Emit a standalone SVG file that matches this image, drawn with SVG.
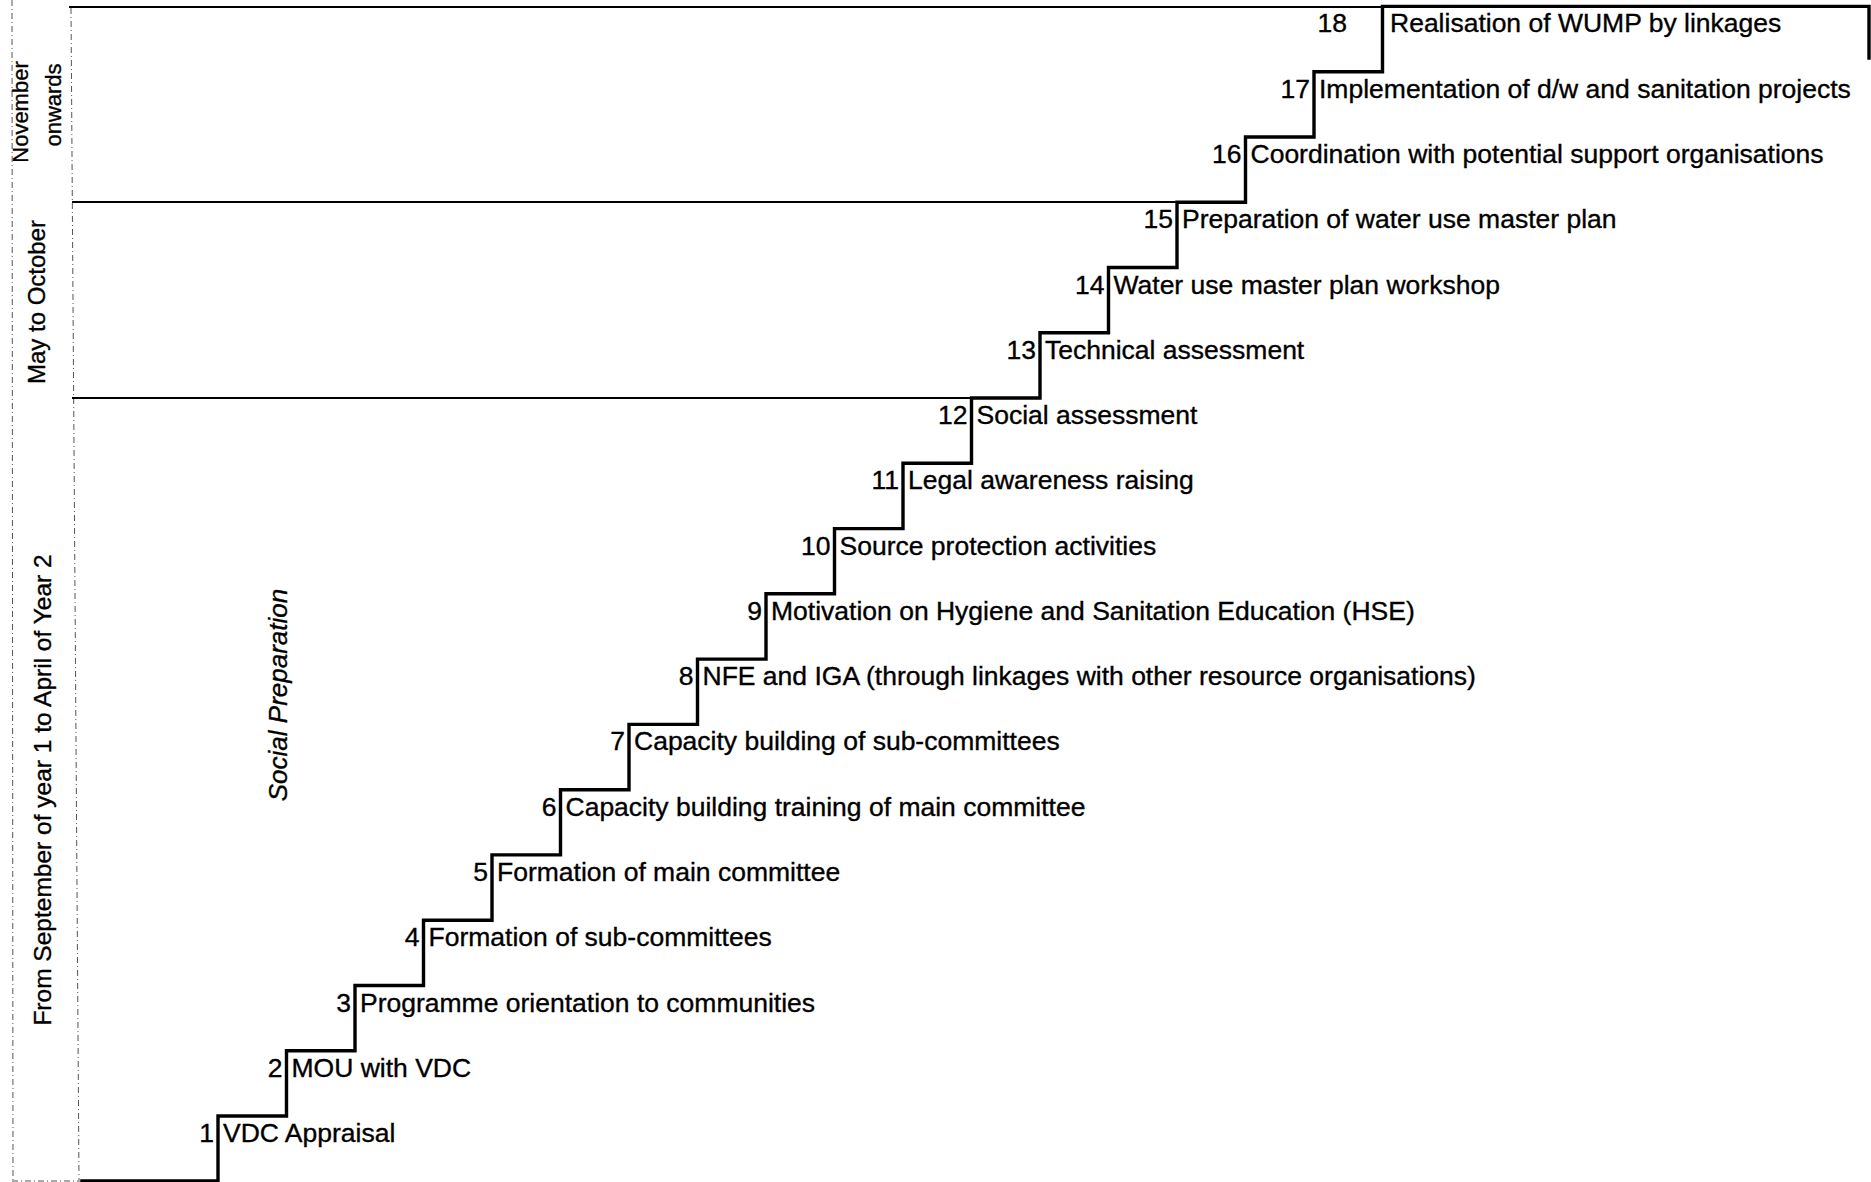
<svg xmlns="http://www.w3.org/2000/svg" width="1871" height="1182" viewBox="0 0 1871 1182">
<style>
text{font-family:"Liberation Sans",Arial,Helvetica,sans-serif;fill:#000;stroke:#000;stroke-width:0.35}
.num{font-size:26.5px;text-anchor:end}
.lbl{font-size:26.5px}
.side{font-size:24px;text-anchor:middle}
.stair{fill:none;stroke:#000;stroke-width:3.4;stroke-linejoin:miter;stroke-linecap:square}
.band{fill:none;stroke:#000;stroke-width:2.2}
.dot{fill:none;stroke:#555;stroke-width:1;stroke-dasharray:6 3 1 3}
</style>
<rect width="1871" height="1182" fill="#fff"/>
<g id="frame">
<line class="dot" x1="12" y1="0" x2="13" y2="1180"/>
<line class="dot" x1="71" y1="8" x2="79" y2="1180"/>
<line class="dot" x1="12" y1="1181" x2="82" y2="1181"/>
<line class="band" x1="69" y1="7" x2="1382.5" y2="7"/>
<line class="band" x1="72" y1="202" x2="1177" y2="202"/>
<line class="band" x1="72" y1="398" x2="971.5" y2="398"/>
</g>
<g id="period-labels">
<text class="side" transform="translate(28,112) rotate(-90)" style="font-size:22px">November</text>
<text class="side" transform="translate(61,105) rotate(-90)" style="font-size:22px">onwards</text>
<text class="side" transform="translate(45,302) rotate(-90)">May to October</text>
<text class="side" transform="translate(51,790) rotate(-90)" style="font-size:24.5px">From September of year 1 to April of Year 2</text>
<text class="side" transform="translate(287,695) rotate(-90)" style="font-size:26px;font-style:italic">Social Preparation</text>
</g>
<g id="connectors">
<path class="stair" d="M82 1181 H218 V1116 H286.5 V1050.7 H355 V985.5 H423.5 V920.2 H492 V854.9 H560.5 V789.7 H629 V724.4 H697.5 V659.1 H766 V593.8 H834.5 V528.6 H903 V463.3 H971.5 V398 H1040 V332.8 H1108.5 V267.5 H1177 V202.2 H1245.5 V137 H1314 V71.7 H1382.5 V6.4 H1869 V58"/>
</g>
<g id="step1"><text class="num" x="214" y="1142">1</text><text class="lbl" x="223" y="1142">VDC Appraisal</text></g>
<g id="step2"><text class="num" x="282.5" y="1076.7">2</text><text class="lbl" x="291.5" y="1076.7">MOU with VDC</text></g>
<g id="step3"><text class="num" x="351" y="1011.5">3</text><text class="lbl" x="360" y="1011.5">Programme orientation to communities</text></g>
<g id="step4"><text class="num" x="419.5" y="946.2">4</text><text class="lbl" x="428.5" y="946.2">Formation of sub-committees</text></g>
<g id="step5"><text class="num" x="488" y="880.9">5</text><text class="lbl" x="497" y="880.9">Formation of main committee</text></g>
<g id="step6"><text class="num" x="556.5" y="815.7">6</text><text class="lbl" x="565.5" y="815.7">Capacity building training of main committee</text></g>
<g id="step7"><text class="num" x="625" y="750.4">7</text><text class="lbl" x="634" y="750.4">Capacity building of sub-committees</text></g>
<g id="step8"><text class="num" x="693.5" y="685.1">8</text><text class="lbl" x="702.5" y="685.1">NFE and IGA (through linkages with other resource organisations)</text></g>
<g id="step9"><text class="num" x="762" y="619.8">9</text><text class="lbl" x="771" y="619.8">Motivation on Hygiene and Sanitation Education (HSE)</text></g>
<g id="step10"><text class="num" x="830.5" y="554.6">10</text><text class="lbl" x="839.5" y="554.6">Source protection activities</text></g>
<g id="step11"><text class="num" x="899" y="489.3">11</text><text class="lbl" x="908" y="489.3">Legal awareness raising</text></g>
<g id="step12"><text class="num" x="967.5" y="424">12</text><text class="lbl" x="976.5" y="424">Social assessment</text></g>
<g id="step13"><text class="num" x="1036" y="358.8">13</text><text class="lbl" x="1045" y="358.8">Technical assessment</text></g>
<g id="step14"><text class="num" x="1104.5" y="293.5">14</text><text class="lbl" x="1113.5" y="293.5">Water use master plan workshop</text></g>
<g id="step15"><text class="num" x="1173" y="228.2">15</text><text class="lbl" x="1182" y="228.2">Preparation of water use master plan</text></g>
<g id="step16"><text class="num" x="1241.5" y="163">16</text><text class="lbl" x="1250.5" y="163">Coordination with potential support organisations</text></g>
<g id="step17"><text class="num" x="1310" y="97.7">17</text><text class="lbl" x="1319" y="97.7">Implementation of d/w and sanitation projects</text></g>
<g id="step18"><text class="num" x="1347" y="32.4">18</text><text class="lbl" x="1390" y="32.4">Realisation of WUMP by linkages</text></g>
</svg>
